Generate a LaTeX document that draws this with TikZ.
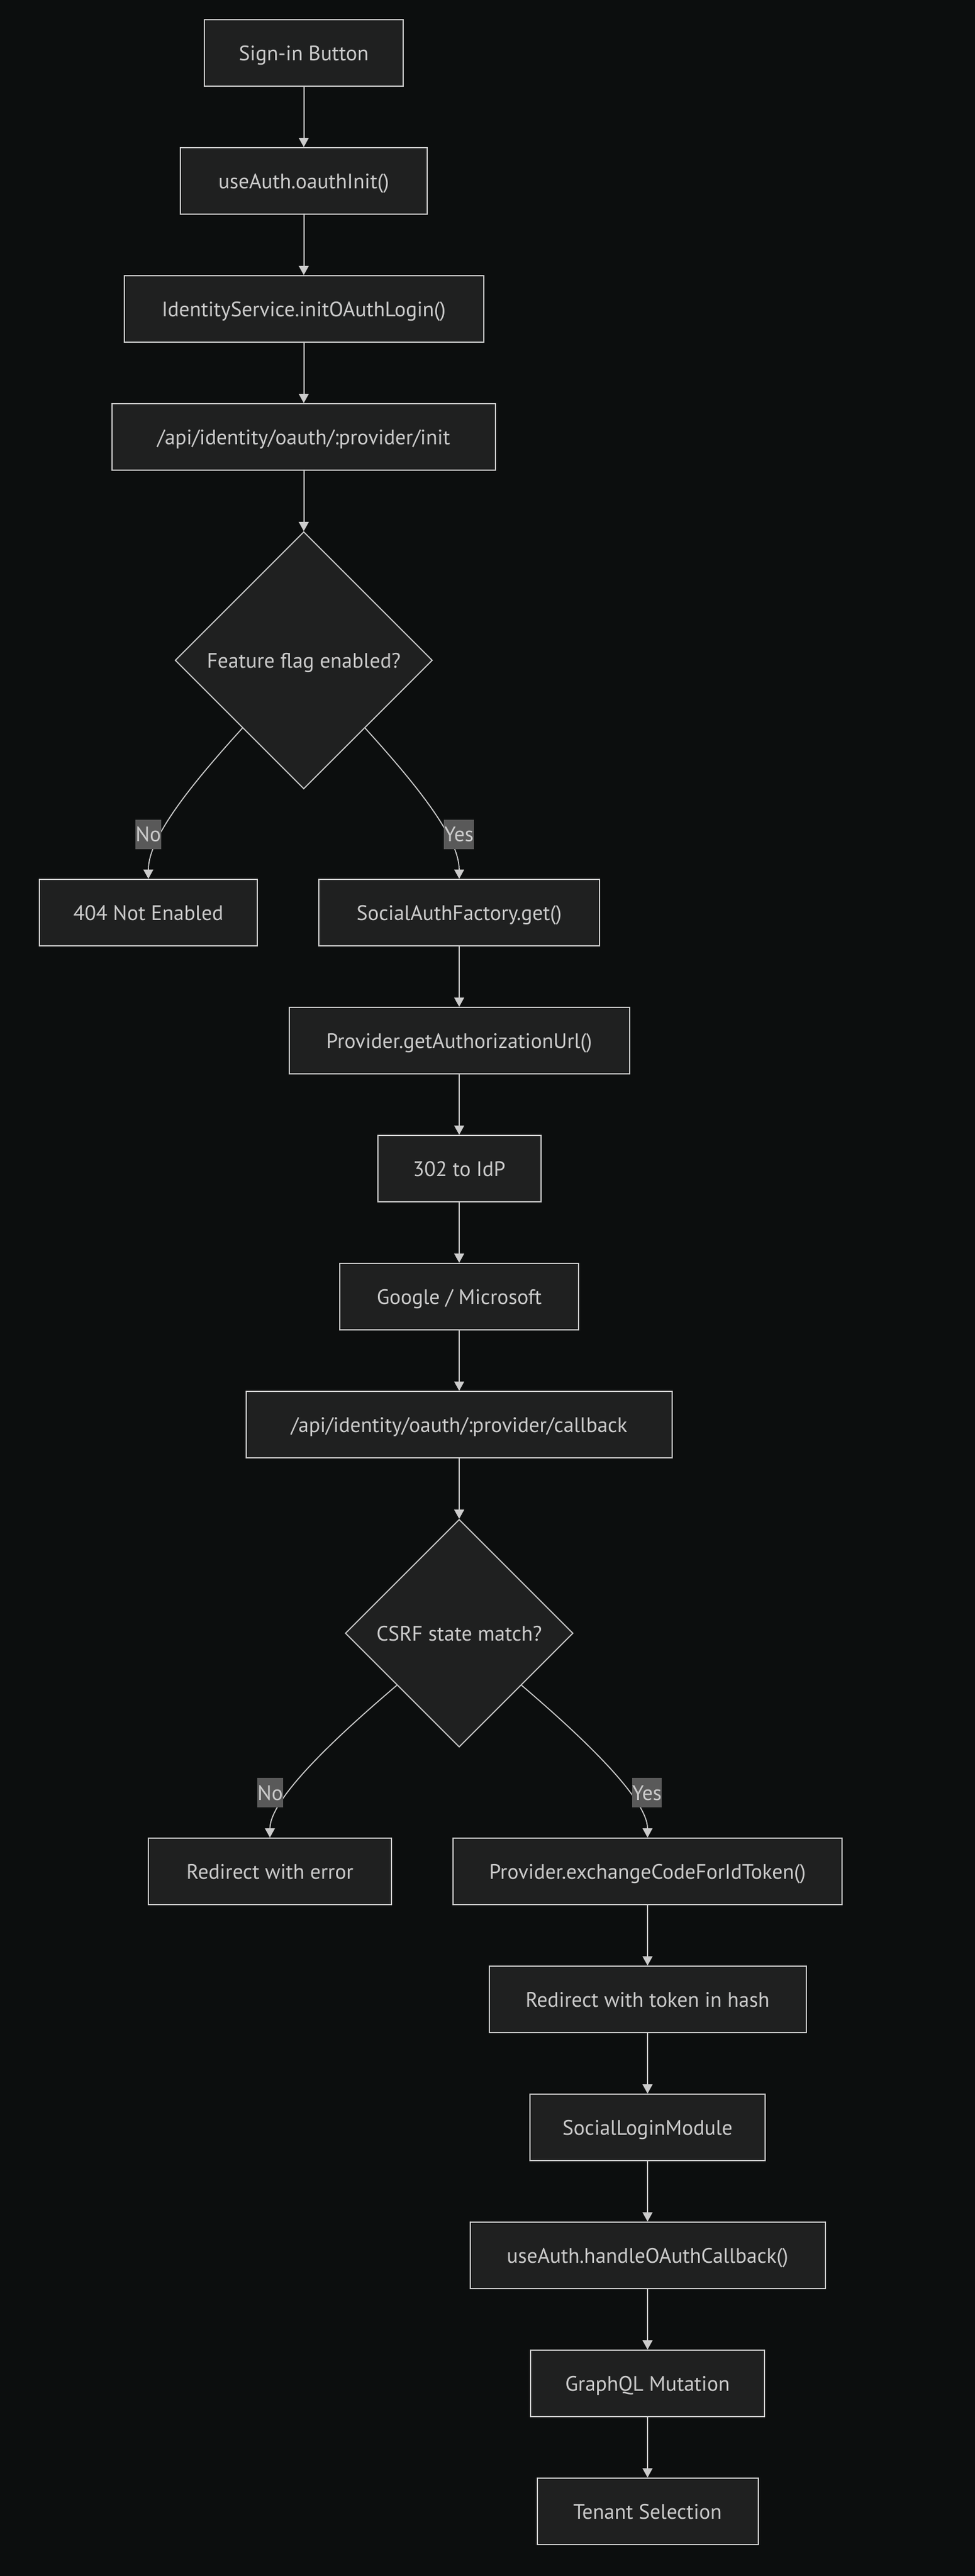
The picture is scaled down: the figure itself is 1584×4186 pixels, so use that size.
\documentclass[tikz,border=0pt]{standalone}
\usepackage{fontspec}
\setmainfont{PT Sans}
\usetikzlibrary{arrows.meta,shapes.geometric,calc}
\definecolor{bgc}{HTML}{0C0E0E}
\definecolor{boxfill}{HTML}{1F2020}
\definecolor{linec}{HTML}{CCCCCC}
\definecolor{txtc}{HTML}{CCCCCC}
\definecolor{lblfill}{HTML}{595959}
\tikzset{
  box/.style={rectangle, draw=linec, fill=boxfill, line width=2pt, text=txtc,
    minimum height=108pt, inner sep=0pt, text height=24pt, text depth=0pt,
    font=\fontsize{34}{40}\selectfont},
  decision/.style={diamond, draw=linec, fill=boxfill, line width=1.8pt, text=txtc,
    inner sep=0pt, text height=24pt, text depth=0pt, font=\fontsize{34}{40}\selectfont},
  lbl/.style={rectangle, fill=lblfill, text=txtc, inner xsep=0.5pt, inner ysep=0pt,
    minimum height=48pt, text height=24pt, text depth=0pt,
    font=\fontsize{34}{40}\selectfont},
  edge/.style={draw=linec, line width=2pt, -{Triangle[width=16pt,length=15pt]}},
  cedge/.style={draw=linec, line width=1.7pt, -{Triangle[width=16pt,length=15pt]}}
}
\begin{document}
\begin{tikzpicture}[x=1pt,y=-1pt]
\fill[bgc] (0,0) rectangle (1584,4186);
\useasboundingbox (0,0) rectangle (1584,4186);

\node[box, minimum width=323pt] (n1) at (493.5,86) {Sign-in Button};
\node[box, minimum width=401pt] (n2) at (493.5,294) {useAuth.oauthInit()};
\node[box, minimum width=584pt] (n3) at (493.5,502) {IdentityService.initOAuthLogin()};
\node[box, minimum width=623pt] (n4) at (493.5,710) {/api/identity/oauth/:provider/init};
\node[decision, minimum width=418pt, minimum height=418pt] (d1) at (493.5,1073) {Feature flag enabled?};
\node[box, minimum width=354pt] (n6) at (241,1483) {404 Not Enabled};
\node[box, minimum width=456pt] (n7) at (746,1483) {SocialAuthFactory.get()};
\node[box, minimum width=553pt] (n8) at (746,1691) {Provider.getAuthorizationUrl()};
\node[box, minimum width=265pt] (n9) at (746,1899) {302 to IdP};
\node[box, minimum width=388pt] (n10) at (746,2107) {Google / Microsoft};
\node[box, minimum width=692pt] (n11) at (746,2315) {/api/identity/oauth/:provider/callback};
\node[decision, minimum width=370pt, minimum height=370pt] (d2) at (746,2654) {CSRF state match?};
\node[box, minimum width=395pt] (n13) at (438.5,3041) {Redirect with error};
\node[box, minimum width=632pt] (n14) at (1052,3041) {Provider.exchangeCodeForIdToken()};
\node[box, minimum width=515pt] (n15) at (1052,3249) {Redirect with token in hash};
\node[box, minimum width=382pt] (n16) at (1052,3457) {SocialLoginModule};
\node[box, minimum width=577pt] (n17) at (1052,3665) {useAuth.handleOAuthCallback()};
\node[box, minimum width=380pt] (n18) at (1052,3873) {GraphQL Mutation};
\node[box, minimum width=359pt] (n19) at (1052,4081) {Tenant Selection};

\draw[edge] (n1) -- (n2);
\draw[edge] (n2) -- (n3);
\draw[edge] (n3) -- (n4);
\draw[edge] (n4) -- (d1);
\draw[edge] (n7) -- (n8);
\draw[edge] (n8) -- (n9);
\draw[edge] (n9) -- (n10);
\draw[edge] (n10) -- (n11);
\draw[edge] (n11) -- (d2);
\draw[edge] (n14) -- (n15);
\draw[edge] (n15) -- (n16);
\draw[edge] (n16) -- (n17);
\draw[edge] (n17) -- (n18);
\draw[edge] (n18) -- (n19);

\coordinate (s1) at ($(d1.south)!0.475!(d1.west)$);
\coordinate (s2) at ($(d1.south)!0.475!(d1.east)$);
\coordinate (s3) at ($(d2.south)!0.545!(d2.west)$);
\coordinate (s4) at ($(d2.south)!0.545!(d2.east)$);

\draw[cedge] (s1) .. controls (313.6,1271.8) and (241,1360) .. (n6.north);
\draw[cedge] (s2) .. controls (673.4,1271.8) and (746,1360) .. (n7.north);
\draw[cedge] (s3) .. controls (561.4,2809.5) and (438.5,2920) .. (n13.north);
\draw[cedge] (s4) .. controls (930.6,2809.5) and (1052,2920) .. (n14.north);

\node[lbl] (l1) at (241,1355.5) {No};
\node[lbl] (l2) at (745.5,1355.5) {Yes};
\node[lbl] (l3) at (439,2913) {No};
\node[lbl] (l4) at (1051,2913) {Yes};
\end{tikzpicture}
\end{document}
